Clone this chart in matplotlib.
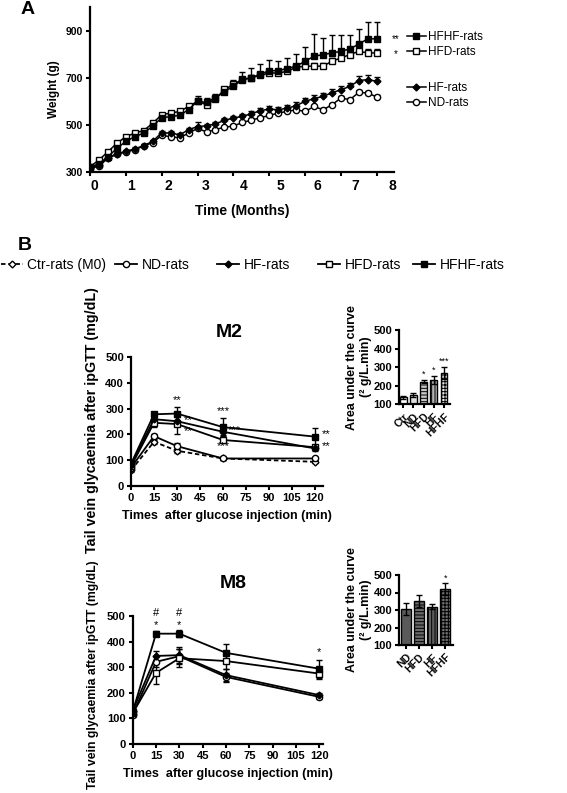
import numpy as np
import matplotlib
matplotlib.use("Agg")
import matplotlib.pyplot as plt
from matplotlib import font_manager
from matplotlib.lines import Line2D

installed = {f.name for f in font_manager.fontManager.ttflist}
narrowFont = "Liberation Sans Narrow" if "Liberation Sans Narrow" in installed else "Liberation Sans"
plt.rcParams["font.family"] = ["Liberation Sans", "DejaVu Sans"]
plt.rcParams["font.weight"] = "bold"
plt.rcParams["axes.labelweight"] = "bold"
plt.rcParams["hatch.linewidth"] = 0.7

# ---- panel A: body weight (g), one point per week ----
time_months = [0, 0.25, 0.5, 0.75, 1, 1.25, 1.5, 1.75, 2, 2.25, 2.5, 2.75, 3, 3.25, 3.5, 3.75,
               4, 4.25, 4.5, 4.75, 5, 5.25, 5.5, 5.75, 6, 6.25, 6.5, 6.75, 7, 7.25, 7.5, 7.75, 8]
hfhf_weight = [320, 335, 365, 400, 430, 450, 465, 495, 530, 535, 540, 565, 600, 595, 615, 640,
               665, 690, 700, 715, 730, 730, 739, 749, 770, 791, 798, 805, 812, 822, 843, 865, 865]
hfhf_weight_err = [4, 5, 6, 8, 8, 10, 10, 12, 12, 14, 15, 15, 22, 20, 18, 20,
                   25, 35, 40, 42, 45, 40, 45, 50, 60, 95, 70, 75, 70, 60, 65, 70, 70]
hfd_weight = [322, 351, 386, 422, 450, 465, 476, 507, 543, 550, 557, 578, 600, 586, 610, 650,
              672, 693, 700, 710, 720, 720, 727, 744, 749, 749, 749, 770, 784, 798, 812, 805, 805]
hfd_weight_err = [3, 4, 5, 6, 6, 6, 7, 8, 8, 8, 9, 10, 10, 10, 10, 12,
                  12, 12, 12, 12, 12, 12, 12, 12, 14, 14, 14, 14, 14, 14, 15, 15, 15]
hf_weight = [318, 328, 358, 377, 388, 398, 412, 430, 467, 465, 458, 479, 493, 496, 504, 519,
             529, 536, 547, 560, 567, 564, 571, 581, 600, 611, 621, 636, 649, 663, 688, 692, 685]
hf_weight_err = [3, 4, 5, 5, 6, 6, 6, 7, 7, 8, 8, 8, 20, 8, 8, 10,
                 10, 10, 12, 12, 12, 12, 12, 14, 14, 14, 15, 15, 15, 15, 18, 18, 18]
nd_weight = [315, 325, 360, 375, 385, 395, 410, 425, 455, 450, 445, 465, 485, 470, 480, 490,
             495, 510, 520, 530, 540, 550, 557, 564, 557, 578, 564, 585, 614, 607, 638, 635, 618]
nd_weight_err = [3, 3, 4, 4, 5, 5, 5, 5, 6, 6, 6, 6, 8, 6, 6, 7,
                 7, 7, 8, 8, 8, 8, 8, 8, 8, 8, 8, 8, 9, 9, 9, 10, 10]
month_labels = ["0", "1", "2", "3", "4", "5", "6", "7", "8"]

# ---- panel B: ipGTT glycaemia (mg/dL) ----
gtt_times = [0, 15, 30, 60, 120]
m2_ctr = [60, 171, 136, 106, 93]
m2_ctr_err = [5, 8, 8, 4, 4]
m2_nd = [70, 193, 154, 106, 106]
m2_nd_err = [5, 10, 12, 4, 5]
m2_hf = [80, 259, 251, 210, 145]
m2_hf_err = [5, 12, 15, 12, 8]
m2_hfd = [75, 245, 240, 178, 150]
m2_hfd_err = [5, 15, 38, 12, 8]
m2_hfhf = [85, 278, 281, 228, 191]
m2_hfhf_err = [5, 10, 24, 35, 35]

m8_nd = [115, 321, 343, 262, 184]
m8_nd_err = [8, 20, 30, 15, 8]
m8_hfd = [120, 278, 335, 324, 275]
m8_hfd_err = [8, 42, 35, 30, 20]
m8_hf = [130, 344, 347, 269, 191]
m8_hf_err = [8, 18, 32, 25, 8]
m8_hfhf = [126, 431, 431, 356, 294]
m8_hfhf_err = [8, 10, 13, 36, 36]

# area under the curve (g/L.min)
m2_auc_groups = ["Ctr", "ND", "HFD", "HF", "HFHF"]
m2_auc = [138, 148, 222, 231, 270]
m2_auc_err = [9, 11, 9, 21, 33]
m2_auc_stars = ["", "", "*", "*", "***"]
m8_auc_groups = ["ND", "HFD", "HF", "HFHF"]
m8_auc = [306, 353, 319, 420]
m8_auc_err = [32, 33, 15, 32]
m8_auc_stars = ["", "", "", "*"]

W, H = 567, 793
fig = plt.figure(figsize=(W / 100, H / 100), dpi=100)


def rect(left, top, right, bottom):
    return [left / W, 1 - bottom / H, (right - left) / W, (bottom - top) / H]


def styleAxes(ax, labelsize=8, family="Liberation Sans"):
    for side in ["top", "right"]:
        ax.spines[side].set_visible(False)
    for side in ["left", "bottom"]:
        ax.spines[side].set_linewidth(1.6)
    ax.tick_params(direction="out", width=1.5, length=3, labelsize=labelsize, pad=2)
    for lab in ax.get_xticklabels(which="both") + ax.get_yticklabels():
        lab.set_family(family)
        lab.set_fontweight("heavy")


# marker style per group
groupStyle = {
    "Ctr": dict(marker="D", mfc="white", ms=3.5, ls=(0, (2.5, 1.5))),
    "ND": dict(marker="o", mfc="white", ms=4.5, ls="-"),
    "HF": dict(marker="D", mfc="black", ms=3.5, ls="-"),
    "HFD": dict(marker="s", mfc="white", ms=4.5, ls="-"),
    "HFHF": dict(marker="s", mfc="black", ms=4.5, ls="-"),
}


def drawSeries(ax, x, y, err, group, upOnly=False, lw=1.3):
    st = groupStyle[group]
    yerr = [np.zeros(len(err)), err] if upOnly else err
    ax.errorbar(x, y, yerr=yerr, color="black", lw=lw, ls=st["ls"], marker=st["marker"],
                ms=st["ms"], mfc=st["mfc"], mec="black", mew=1, capsize=2.5,
                elinewidth=1, capthick=1)


def handle(group, lw=1.3):
    st = groupStyle[group]
    return Line2D([], [], color="black", lw=lw, ls=st["ls"], marker=st["marker"],
                  ms=st["ms"], mfc=st["mfc"], mec="black", mew=1)


# ---------------- panel A ----------------
axA = fig.add_axes(rect(90, 7, 394, 172))
drawSeries(axA, time_months, nd_weight, nd_weight_err, "ND", upOnly=True, lw=1.1)
drawSeries(axA, time_months, hf_weight, hf_weight_err, "HF", upOnly=True, lw=1.1)
drawSeries(axA, time_months, hfd_weight, hfd_weight_err, "HFD", upOnly=True, lw=1.1)
drawSeries(axA, time_months, hfhf_weight, hfhf_weight_err, "HFHF", upOnly=True, lw=1.1)
axA.set_xlim(0, 8.48)
axA.set_ylim(300, 1000)
axA.set_yticks([300, 500, 700, 900])
axA.set_xticks(range(9))
axA.set_xticklabels([])
# month labels sit slightly right of their ticks in the original
axA.set_xticks([0.11 + 1.041 * k for k in range(9)], minor=True)
axA.set_xticklabels(month_labels, minor=True)
styleAxes(axA, labelsize=7.5, family=narrowFont)
axA.tick_params(axis="x", which="minor", length=0, pad=5)
axA.set_ylabel("Weight (g)", fontsize=8.5, labelpad=4, fontweight="bold")
axA.set_xlabel("Time (Months)", fontsize=10, labelpad=8, fontweight="bold")

legendA = [("HFHF", "HFHF-rats", 37, "**"), ("HFD", "HFD-rats", 52, "*"),
           ("HF", "HF-rats", 88, ""), ("ND", "ND-rats", 103, "")]
for group, label, ypix, star in legendA:
    fig.legend(handles=[handle(group, lw=1.1)], labels=[label], loc="center left",
               bbox_to_anchor=(407 / W, 1 - ypix / H), frameon=False, borderpad=0,
               borderaxespad=0, handlelength=1.6, handletextpad=0.2,
               prop=dict(family=narrowFont, size=8.5, weight="normal"))
    if star:
        fig.text(396 / W, 1 - (ypix + 2) / H, star, ha="center", va="center",
                 fontsize=7, fontweight="normal")

fig.text(28 / W, 1 - 10 / H, "A", fontsize=14, ha="center", va="center", fontweight="bold")
fig.text(25 / W, 1 - 245 / H, "B", fontsize=14, ha="center", va="center", fontweight="bold")

# ---------------- panel B legend ----------------
legendB = [("Ctr", "Ctr-rats (M0)", 1), ("ND", "ND-rats", 115), ("HF", "HF-rats", 217),
           ("HFD", "HFD-rats", 318), ("HFHF", "HFHF-rats", 413)]
for group, label, xpix in legendB:
    fig.legend(handles=[handle(group)], labels=[label], loc="center left",
               bbox_to_anchor=(xpix / W, 1 - 265 / H), frameon=False, borderpad=0,
               borderaxespad=0, handlelength=1.6, handletextpad=0.3,
               prop=dict(size=10, weight="normal"))

ylabelGtt = "Tail vein glycaemia after ipGTT (mg/dL)"
xlabelGtt = "Times  after glucose injection (min)"

# ---------------- M2 ----------------
axM2 = fig.add_axes(rect(131, 357.3, 323, 485.7))
drawSeries(axM2, gtt_times, m2_ctr, m2_ctr_err, "Ctr")
drawSeries(axM2, gtt_times, m2_nd, m2_nd_err, "ND")
drawSeries(axM2, gtt_times, m2_hfd, m2_hfd_err, "HFD")
drawSeries(axM2, gtt_times, m2_hf, m2_hf_err, "HF")
drawSeries(axM2, gtt_times, m2_hfhf, m2_hfhf_err, "HFHF")
axM2.set_xlim(0, 125.2)
axM2.set_ylim(0, 500)
axM2.set_xticks(range(0, 121, 15))
axM2.set_yticks(range(0, 501, 100))
styleAxes(axM2)
axM2.set_xlabel(xlabelGtt, fontsize=9, labelpad=5, fontweight="bold")
m2_marks = [(30, 333, "**"), (37, 257, "**"), (37, 211, "**"), (60, 289, "***"),
            (67.5, 218, "***"), (60, 156, "***"), (127.5, 201, "**"), (127.5, 155, "**")]
for t, v, s in m2_marks:
    axM2.text(t, v, s, ha="center", va="center", fontsize=8, fontweight="normal",
              clip_on=False)
fig.text(92 / W, 1 - 420 / H, ylabelGtt, rotation=90, ha="center", va="center",
         fontsize=10.3, fontweight="bold")
fig.text(229 / W, 1 - 332 / H, "M2", ha="center", va="center", fontsize=14, fontweight="bold")

# ---------------- M8 ----------------
axM8 = fig.add_axes(rect(132.7, 616, 323, 744))
drawSeries(axM8, gtt_times, m8_nd, m8_nd_err, "ND")
drawSeries(axM8, gtt_times, m8_hf, m8_hf_err, "HF")
drawSeries(axM8, gtt_times, m8_hfd, m8_hfd_err, "HFD")
drawSeries(axM8, gtt_times, m8_hfhf, m8_hfhf_err, "HFHF")
axM8.set_xlim(0, 122.4)
axM8.set_ylim(0, 500)
axM8.set_xticks(range(0, 121, 15))
axM8.set_yticks(range(0, 501, 100))
styleAxes(axM8)
axM8.set_xlabel(xlabelGtt, fontsize=9, labelpad=5, fontweight="bold")
m8_marks = [(15, 511, "#"), (15, 463, "*"), (30, 511, "#"), (30, 463, "*"), (120, 359, "*")]
for t, v, s in m8_marks:
    axM8.text(t, v, s, ha="center", va="center", fontsize=8, fontweight="normal",
              clip_on=False)
fig.text(93 / W, 1 - 675 / H, ylabelGtt, rotation=90, ha="center", va="center",
         fontsize=8.8, fontweight="bold")
fig.text(233 / W, 1 - 583 / H, "M8", ha="center", va="center", fontsize=14, fontweight="bold")


# ---------------- AUC insets ----------------
def drawAuc(ax, groups, values, errs, stars, faces, hatches, width, xlim):
    x = np.arange(len(groups))
    heights = np.array(values) - 100
    ax.bar(x, heights, bottom=100, width=width, color=faces, edgecolor="black",
           hatch=hatches, linewidth=1, yerr=errs, capsize=2,
           error_kw=dict(elinewidth=1, capthick=1))
    for xi, v, e, s in zip(x, values, errs, stars):
        if s:
            ax.text(xi, v + e + 6, s, ha="center", va="bottom", fontsize=6.5,
                    fontweight="normal")
    ax.set_xlim(*xlim)
    ax.set_ylim(100, 500)
    ax.set_yticks(range(100, 501, 100))
    ax.set_xticks(x)
    ax.set_xticklabels(groups, rotation=45, ha="right", rotation_mode="anchor")
    styleAxes(ax, labelsize=8)
    ax.tick_params(axis="x", labelsize=7.5)
    ax.set_ylabel("Area under the curve\n(\u00b2 g/L.min)", fontsize=9, linespacing=1.3,
                  labelpad=1, fontweight="bold")


axAuc2 = fig.add_axes(rect(399.3, 330, 450, 404.3))
drawAuc(axAuc2, m2_auc_groups, m2_auc, m2_auc_err, m2_auc_stars,
        ["white", "#dedede", "#c8c8c8", "#b4b4b4", "#e8e8e8"],
        [None, None, "-----", "|||||", "+++++"], 0.66, (-0.4, 4.6))

axAuc8 = fig.add_axes(rect(399.3, 575, 453, 645))
drawAuc(axAuc8, m8_auc_groups, m8_auc, m8_auc_err, m8_auc_stars,
        ["#5a5a5a", "#6a6a6a", "#5e5e5e", "#707070"],
        [None, "-----", "|||||", "+++++"], 0.77, (-0.5, 3.6))

fig.savefig("out.png", dpi=100)
